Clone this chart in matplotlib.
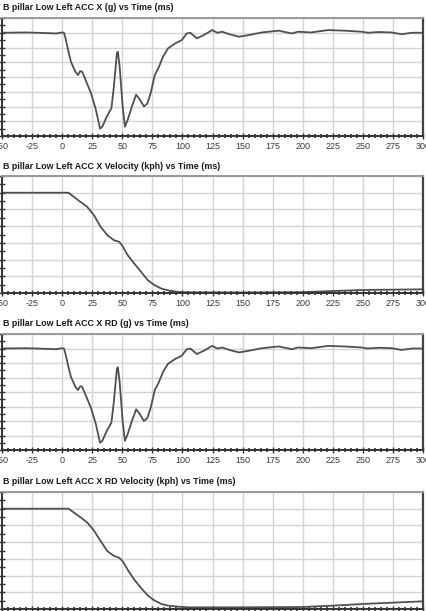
"""
B pillar low left acceleration / velocity traces, four stacked panels.
"""

import matplotlib.pyplot as plt
from matplotlib.ticker import MultipleLocator

plt.rcParams['font.family'] = ['Liberation Sans', 'DejaVu Sans']
plt.rcParams['axes.unicode_minus'] = False

# --- data ------------------------------------------------------------------
acc_time = [-50, -30, -10, -5, 0, 1.5, 2.5, 5.3, 7.3, 11, 13.2, 15, 16.6, 20, 24, 28,
            31.5, 33.4, 37, 41, 43, 45.5, 46.3, 47.8, 50.3, 52.2, 54.5, 58, 61.5,
            64, 68, 70.8, 73.6, 77, 80, 84, 88, 94, 99.4, 103.6, 106.5, 112, 117.7,
            124.7, 129, 133, 139, 147, 155, 166, 180, 191, 196, 207, 221, 235,
            249, 254, 263, 274, 282, 291, 300]
acc_x = [0, 0.2, -0.3, -0.5, 0.2, 0, -2.7, -12.9, -19.6, -26.4, -28.7, -26, -26.4,
         -33, -41, -52, -65, -63.7, -57, -51, -36.6, -14, -12.9, -23, -50, -63.7,
         -59, -50, -42, -44.5, -50, -48, -41, -28.7, -24, -16, -10.6, -7.2, -5,
         -0.5, 0, -3.8, -1.6, 1.8, 0, 0.7, -1, -2.7, -1.6, 0.2, 1.4, -0.5, 0.7,
         0.2, 1.8, 1.4, 0.7, 0, 0.5, 0.2, -1, 0, 0]
acc_x_rd = acc_x

vel_time = [-50, 0, 5.3, 9.6, 15, 20.8, 26.4, 32, 37.6, 43, 47.5, 50.3, 54.5, 60,
            65.7, 71.3, 77, 82.6, 88, 96.6, 105, 150, 200, 225, 250, 300]
vel_x = [60, 60, 60, 57.6, 54.6, 51.6, 46.6, 39.6, 34.6, 31.6, 30.6, 28, 22.6, 17.6,
         12.6, 7.6, 4.6, 2.6, 1.6, 0.6, 0.4, 0.3, 0.5, 1.2, 1.8, 2.2]
vel_x_rd = [60, 60, 60, 57.8, 55, 51.8, 47, 40.6, 34.6, 31.8, 30.6, 28.6, 23.5,
            17.5, 12.5, 8, 5, 3, 2, 1.4, 1, 1, 1.2, 2, 3, 4.6]

titles = [
    'B pillar Low Left ACC X (g) vs Time (ms)',
    'B pillar Low Left ACC X Velocity (kph) vs Time (ms)',
    'B pillar Low Left ACC X RD (g) vs Time (ms)',
    'B pillar Low Left ACC X RD Velocity (kph) vs Time (ms)',
]

W, H = 426, 611
# (top, bottom) of each panel in pixels
panel_px = [(18, 136), (176, 293), (334, 450), (492, 609)]
left_px, right_px = 2, 423

fig = plt.figure(figsize=(W / 100, H / 100), dpi=100)

series = [(acc_time, acc_x, (-70, 10)),
          (vel_time, vel_x, (0, 70)),
          (acc_time, acc_x_rd, (-70, 10)),
          (vel_time, vel_x_rd, (0, 70))]

for (top, bot), (t, y, ylim), title in zip(panel_px, series, titles):
    ax = fig.add_axes([left_px / W, 1 - bot / H, (right_px - left_px) / W, (bot - top) / H])
    ax.plot(t, y, color='#505050', linewidth=1.3)
    ax.set_xlim(-50, 300)
    ax.set_ylim(*ylim)
    ax.xaxis.set_major_locator(MultipleLocator(25))
    ax.xaxis.set_minor_locator(MultipleLocator(5))
    ax.yaxis.set_major_locator(MultipleLocator(10))
    ax.yaxis.set_minor_locator(MultipleLocator(5))
    ax.grid(True, which='major', color='#d4d4d4', linewidth=1.0)
    ax.set_axisbelow(True)

    ax.tick_params(axis='x', which='major', direction='inout', length=5, width=1,
                   color='#333333', labelsize=6.5, labelcolor='#3a3a3a', pad=2)
    ax.tick_params(axis='x', which='minor', direction='inout', length=3.5, width=1.2,
                   color='#333333')
    ax.tick_params(axis='y', which='both', direction='inout', length=4, width=1,
                   color='#333333', labelleft=False)

    ax.spines['bottom'].set_color('#333333')
    ax.spines['bottom'].set_linewidth(1.4)
    ax.spines['left'].set_color('#333333')
    ax.spines['left'].set_linewidth(1.4)
    ax.spines['right'].set_color('#444444')
    ax.spines['right'].set_linewidth(1.6)
    ax.spines['top'].set_color('#999999')
    ax.spines['top'].set_linewidth(1.4)

    fig.text(3 / W, 1 - (top - 10) / H, title, fontsize=6.4, fontweight='bold',
             color='#1a1a1a', ha='left', va='center')

plt.savefig('out.png', dpi=100)
plt.close()
